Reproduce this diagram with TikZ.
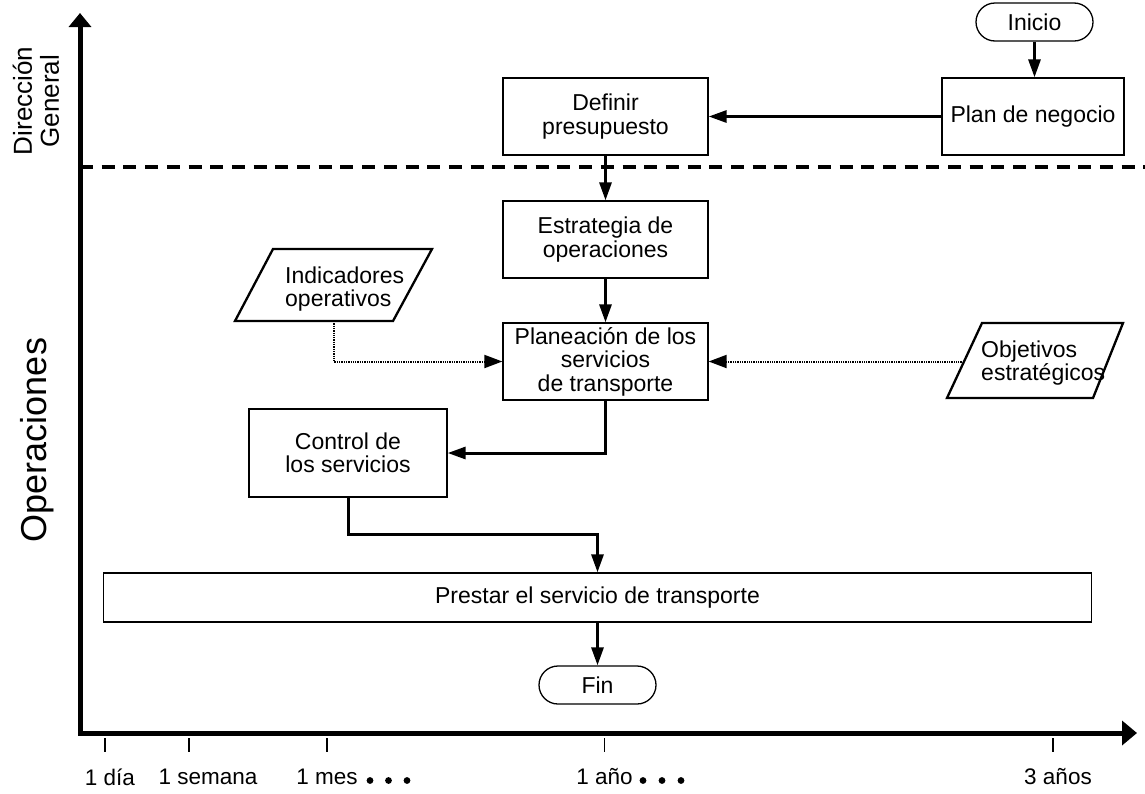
\documentclass[tikz,border=0pt]{standalone}
\usepackage{fontspec}
\setmainfont{Liberation Sans}
\usetikzlibrary{arrows.meta,calc}
\begin{document}
\begin{tikzpicture}[x=1pt,y=-1pt,
  every node/.style={font=\fontsize{23}{23.5}\selectfont, align=center, inner sep=0pt},
  box/.style={draw, line width=1.3pt, minimum width=205pt, minimum height=77pt},
  term/.style={draw, line width=1.3pt, rounded corners=19pt, minimum width=117pt, minimum height=38pt},
  para/.style={draw, line width=2.3pt, line join=miter},
  paratext/.style={align=left, anchor=west},
  flow/.style={line width=3pt, -{Triangle[length=18pt,width=12pt]}},
  dotflow/.style={line width=2pt, dash pattern=on 1.3pt off 1pt, -{Triangle[length=18pt,width=13pt]}},
  axis/.style={line width=5pt, line join=miter, {Triangle[length=14pt,width=22pt]}-{Triangle[length=15pt,width=24pt]}},
  tickmark/.style={line width=1.5pt},
  ticklabel/.style={font=\fontsize{22.5}{24}\selectfont},
  lanelabel/.style={font=\fontsize{26}{27}\selectfont, rotate=90},
  sep/.style={line width=3.5pt, dash pattern=on 13pt off 8.7pt},
]
\useasboundingbox (0,0) rectangle (1145,793);

% time axes
\coordinate (ytop) at (80,13);
\coordinate (corner) at (80,733);
\coordinate (xend) at (1137,733);
\draw[axis] (ytop) -- (corner) -- (xend);

% boundary between the two lanes
\coordinate (sepL) at (80,167);
\coordinate (sepR) at (1145,167);
\draw[sep] (sepL) -- (sepR);

% lane labels
\node[lanelabel] (lane1) at (36,101) {Dirección\\General};
\node[lanelabel, font=\fontsize{36}{37}\selectfont] (lane2) at (37,440) {Operaciones};

% time scale: tick position / label centre / label
\foreach \tx/\lx/\tl [count=\i] in {105/110/1 día, 189/208/1 semana, 327/327/1 mes, 604.5/604.5/1 año, 1053/1058/3 años} {
  \coordinate (t\i a) at (\tx,738);
  \coordinate (t\i b) at (\tx,752);
  \draw[tickmark] (t\i a) -- (t\i b);
  \node[ticklabel] (tl\i) at (\lx,777) {\tl};
}
\foreach \dx in {370,388.5,407,643,662,681} \fill (\dx,780.5) circle[radius=3.4pt];

% process steps
\node[term] (inicio) at (1034.5,22) {Inicio};
\node[box, minimum width=182pt] (plan) at (1033,116.5) {Plan de negocio};
\node[box] (def) at (605.5,116.5) {Definir\\presupuesto};
\node[box] (estr) at (605.5,239.5) {Estrategia de\\operaciones};
\node[box] (plane) at (605.5,361.5) {Planeación de los\\servicios\\de transporte};
\node[box, minimum width=198pt, minimum height=88pt] (ctrl) at (348,453) {Control de\\los servicios};
\node[box, minimum width=988pt, minimum height=49pt] (prest) at (597.5,597.5) {Prestar el servicio de transporte};
\node[term] (fin) at (597.5,685) {Fin};

% inputs (parallelograms)
\coordinate (indc) at (333.5,285);
\draw[para] ($(indc)+(-98.5,36)$) -- ($(indc)+(59.5,36)$) -- ($(indc)+(98.5,-36)$) -- ($(indc)+(-60.5,-36)$) -- cycle;
\node[paratext] (ind) at (285,289) {Indicadores\\operativos};
\coordinate (indb) at ($(indc)+(0,36)$);

\coordinate (objc) at (1035,360.5);
\draw[para] ($(objc)+(-88,37.5)$) -- ($(objc)+(58,37.5)$) -- ($(objc)+(88,-37.5)$) -- ($(objc)+(-53,-37.5)$) -- cycle;
\node[paratext] (obj) at (981,363) {Objetivos\\estratégicos};
\coordinate (objl) at ($(objc)+(-71,1)$);

% connectors
\draw[flow] (inicio.south) -- (inicio.south |- plan.north);
\draw[flow] (plan.west) -- (def.east);
\draw[flow] (def.south) -- (estr.north);
\draw[flow] (estr.south) -- (plane.north);
\draw[dotflow] (indb) |- (plane.west);
\draw[dotflow] (objl) -- (objl -| plane.east);
\draw[flow] (plane.south) |- (ctrl.east);
\draw[flow] (ctrl.south) -- ++(0,37) -| (prest.north);
\draw[flow] (prest.south) -- (fin.north);
\end{tikzpicture}
\end{document}
